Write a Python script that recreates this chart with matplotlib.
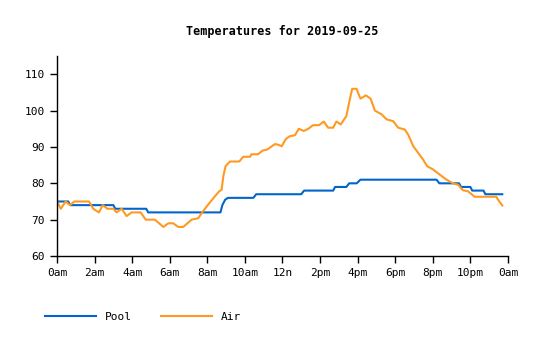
import matplotlib.pyplot as plt

# ---------------------------------------------------------------------
#  Dados
# ---------------------------------------------------------------------

pool_hours = [0, 0.6, 0.7, 3.0, 3.1, 4.75, 4.85, 8.7, 8.8, 8.95, 9.1, 10.45, 10.6,
              13.0, 13.15, 14.7, 14.8, 15.4, 15.55, 15.95, 16.15, 20.2, 20.35,
              21.4, 21.5, 22.0, 22.1, 22.7, 22.8, 23.7]
pool_temps = [75, 75, 74, 74, 73, 73, 72, 72, 74, 75.5, 76, 76, 77,
              77, 78, 78, 79, 79, 80, 80, 81, 81, 80,
              80, 79, 79, 78, 78, 77, 77]

air_hours = [0, 0.2, 0.46, 0.69, 0.92, 1.7, 1.93, 2.23, 2.43, 2.68, 3.0, 3.17, 3.44,
             3.7, 3.97, 4.45, 4.72, 5.21, 5.66, 5.92, 6.19, 6.45, 6.72, 7.16, 7.52,
             7.7, 7.96, 8.32, 8.63, 8.76, 8.85, 8.97, 9.2, 9.7, 9.91, 10.27, 10.35,
             10.7, 10.94, 11.19, 11.6, 11.78, 11.96, 12.18, 12.4, 12.66, 12.87, 13.14,
             13.37, 13.63, 13.95, 14.2, 14.43, 14.7, 14.87, 15.1, 15.4, 15.58, 15.71,
             15.94, 16.15, 16.44, 16.69, 16.92, 17.27, 17.54, 17.89, 18.16, 18.51,
             18.69, 18.96, 19.22, 19.49, 19.7, 20.02, 20.37, 20.73, 21.08, 21.35,
             21.6, 21.88, 22.23, 23.38, 23.5, 23.7]
air_temps = [75, 73, 75, 74, 75, 75, 73, 72, 74, 73, 73, 72, 73,
             71, 72, 72, 70, 70, 68, 69, 69, 68, 68, 70, 70.4,
             71.8, 73.6, 75.9, 77.8, 78.2, 81.9, 84.7, 86, 86, 87.3, 87.3, 88,
             88, 89, 89.3, 90.8, 90.6, 90.2, 92.2, 93, 93.2, 95, 94.4,
             95, 96, 96, 97, 95.3, 95.3, 97, 96.2, 98.5, 103, 106,
             106, 103.3, 104.2, 103.3, 100, 99, 97.6, 97.1, 95.3, 94.8,
             93.4, 90.2, 88.4, 86.5, 84.7, 83.8, 82.4, 81, 80, 79.6,
             78.1, 77.8, 76.3, 76.3, 75.3, 73.9]

x_ticks = list(range(0, 25, 2))
x_labels = ['0am', '2am', '4am', '6am', '8am', '10am', '12n',
            '2pm', '4pm', '6pm', '8pm', '10pm', '0am']
y_ticks = [60, 70, 80, 90, 100, 110]

# ---------------------------------------------------------------------
#  Gráfico
# ---------------------------------------------------------------------

plt.rcParams['font.family'] = 'DejaVu Sans Mono'

fig = plt.figure(figsize=(5.4, 3.4), dpi=100)
ax = fig.add_axes([0.1056, 0.247, 0.835, 0.588])

ax.plot(pool_hours, pool_temps, color='#0066cc', linewidth=1.5, label='Pool')
ax.plot(air_hours, air_temps, color='#ff9922', linewidth=1.5, label='Air')

ax.set_xlim(0, 24)
ax.set_ylim(60, 115)
ax.set_xticks(x_ticks)
ax.set_xticklabels(x_labels)
ax.set_yticks(y_ticks)
ax.tick_params(labelsize=8, length=5, width=1, colors='black')

for lado in ['top', 'right']:
    ax.spines[lado].set_visible(False)
for lado in ['left', 'bottom']:
    ax.spines[lado].set_linewidth(1)

fig.suptitle('Temperatures for 2019-09-25', x=0.523, y=0.925,
             fontsize=8.5, fontweight='bold')

fig.legend(loc='lower left', bbox_to_anchor=(0.065, 0.025), ncol=2, frameon=False,
           fontsize=8, handlelength=4.6, columnspacing=2.6, handletextpad=0.8)

plt.savefig('out.png', dpi=100)
plt.close()
